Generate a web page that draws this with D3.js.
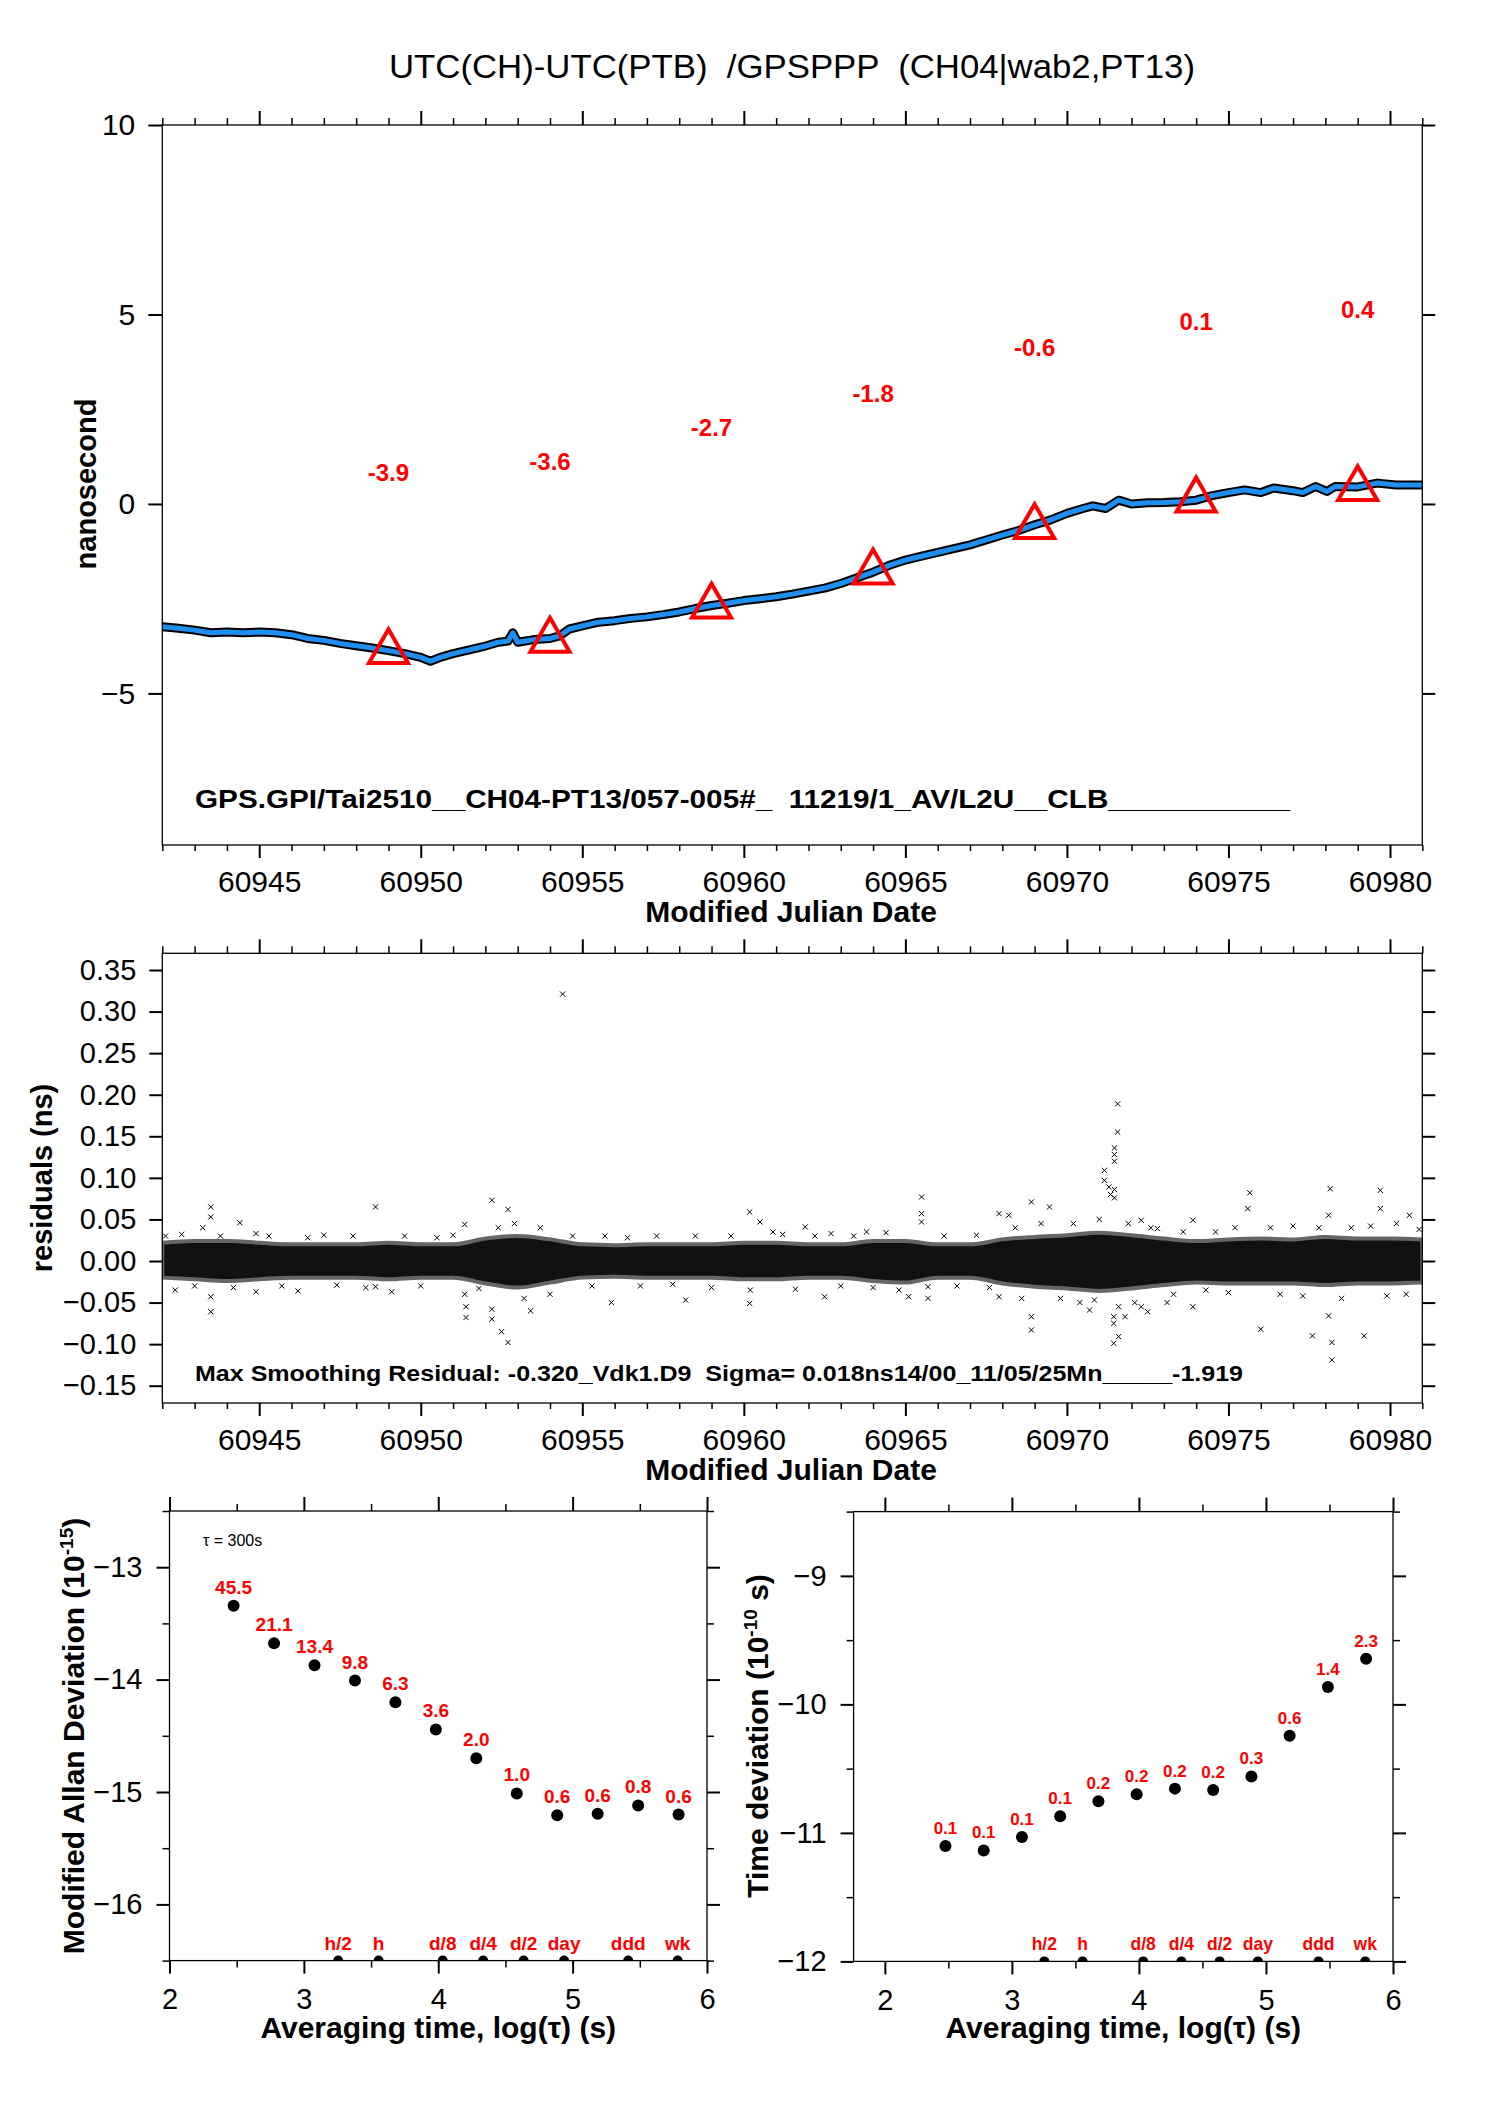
<!DOCTYPE html>
<html>
<head>
<meta charset="utf-8">
<script src="https://cdn.jsdelivr.net/npm/d3@7"></script>
<style>
  body { margin: 0; background: #fff; }
  text { font-family: "Liberation Sans", Arial, Helvetica, sans-serif; white-space: pre; }
</style>
</head>
<body>
<div id="root"></div>
<script>
// ---- top panel: UTC(CH)-UTC(PTB) smoothed offset (ns) ----
const offsetMjd = [60942.0, 60942.5, 60943.0, 60943.5, 60944.0, 60944.5, 60945.0, 60945.5, 60946.0, 60946.5,
  60947.0, 60947.5, 60948.0, 60948.5, 60949.0, 60949.5, 60950.0, 60950.3, 60950.6, 60951.0,
  60951.5, 60952.0, 60952.4, 60952.7, 60952.85, 60953.0, 60953.5, 60954.0, 60954.3, 60954.6,
  60955.0, 60955.5, 60956.0, 60956.5, 60957.0, 60957.5, 60958.0, 60958.5, 60959.0, 60959.5,
  60960.0, 60960.5, 60961.0, 60961.5, 60962.0, 60962.5, 60963.0, 60963.5, 60964.0, 60964.5,
  60965.0, 60965.5, 60966.0, 60966.5, 60967.0, 60967.5, 60968.0, 60968.5, 60969.0, 60969.5,
  60970.0, 60970.5, 60970.8, 60971.2, 60971.6, 60972.0, 60972.5, 60973.0, 60973.5, 60974.0,
  60974.5, 60975.0, 60975.5, 60976.0, 60976.4, 60977.0, 60977.3, 60977.7, 60978.05, 60978.3,
  60979.0, 60979.6, 60980.2, 60981.0];
const offsetNs = [-3.24, -3.28, -3.33, -3.40, -3.38, -3.40, -3.38, -3.40, -3.45, -3.55,
  -3.60, -3.68, -3.74, -3.80, -3.87, -3.95, -4.05, -4.15, -4.05, -3.95,
  -3.85, -3.75, -3.65, -3.62, -3.40, -3.65, -3.58, -3.55, -3.48, -3.30,
  -3.22, -3.12, -3.08, -3.02, -2.98, -2.92, -2.85, -2.76, -2.68, -2.62,
  -2.55, -2.50, -2.45, -2.38, -2.30, -2.22, -2.10, -1.95, -1.80, -1.62,
  -1.48, -1.38, -1.28, -1.18, -1.08, -0.95, -0.82, -0.70, -0.55, -0.42,
  -0.25, -0.12, -0.05, -0.12, 0.10, 0.00, 0.03, 0.04, 0.06, 0.10,
  0.22, 0.30, 0.37, 0.30, 0.42, 0.35, 0.30, 0.46, 0.33, 0.46,
  0.45, 0.55, 0.50, 0.50];

const markMjd = [60949, 60954, 60959, 60964, 60969, 60974, 60979];
const markNs = [-3.9, -3.6, -2.7, -1.8, -0.6, 0.1, 0.4];

const mjdMajor = [60945, 60950, 60955, 60960, 60965, 60970, 60975, 60980];
const topYTicks = [10, 5, 0, -5];

// ---- middle panel: residuals (ns) ----
const bandDays = d3.range(60942, 60982);
const bandHi = [0.022, 0.024, 0.024, 0.022, 0.020, 0.020, 0.020, 0.022, 0.020, 0.020,
  0.027, 0.030, 0.026, 0.020, 0.019, 0.020, 0.020, 0.020, 0.022, 0.022,
  0.020, 0.020, 0.024, 0.024, 0.020, 0.020, 0.026, 0.029, 0.031, 0.034,
  0.031, 0.027, 0.024, 0.026, 0.027, 0.026, 0.029, 0.027, 0.027, 0.026];
const bandLo = [-0.020, -0.022, -0.024, -0.022, -0.020, -0.020, -0.020, -0.022, -0.020, -0.020,
  -0.027, -0.032, -0.026, -0.020, -0.019, -0.020, -0.020, -0.020, -0.022, -0.022,
  -0.020, -0.020, -0.024, -0.026, -0.020, -0.020, -0.027, -0.031, -0.033, -0.036,
  -0.033, -0.029, -0.026, -0.027, -0.027, -0.027, -0.029, -0.027, -0.027, -0.026];

// isolated residuals standing off the band
const outMjd = [60942.1, 60942.4, 60943.25, 60943.5, 60943.5, 60943.5, 60943.5, 60944.4, 60944.9, 60944.9,
  60946.2, 60948.6, 60948.6, 60949.1, 60951.36, 60951.36, 60951.4, 60951.4, 60952.2, 60952.2,
  60952.2, 60952.7, 60952.7, 60952.5, 60953.4, 60954.39, 60955.9, 60958.2, 60960.18, 60960.18,
  60960.5, 60960.9, 60961.9, 60962.5, 60962.7, 60963.8, 60965.1, 60965.5, 60965.5, 60965.5,
  60965.7, 60965.7, 60967.9, 60967.9, 60968.2, 60968.9, 60968.9, 60968.9, 60969.46, 60970.7,
  60970.85, 60971.16, 60971.16, 60971.3, 60971.35, 60971.47, 60971.47, 60971.47, 60971.47, 60971.47,
  60971.57, 60971.57, 60971.45, 60971.45, 60971.45, 60971.6, 60971.6, 60971.8, 60972.3, 60972.3,
  60972.5, 60972.8, 60973.1, 60973.9, 60973.9, 60975.66, 60975.6, 60976.0, 60977.6, 60978.15,
  60978.1, 60978.2, 60978.2, 60978.1, 60979.2, 60979.7, 60979.7, 60980.6];
const outNs = [0.030, -0.035, 0.040, 0.065, 0.053, -0.061, -0.043, 0.046, 0.033, -0.037,
  -0.036, 0.065, -0.031, -0.037, 0.044, -0.040, -0.055, -0.068, 0.073, -0.058,
  -0.070, 0.062, -0.098, -0.085, -0.060, 0.321, -0.050, -0.047, 0.059, -0.051,
  0.047, 0.035, 0.041, -0.043, 0.033, 0.035, -0.043, 0.077, 0.057, 0.047,
  -0.045, -0.031, 0.057, -0.043, 0.055, 0.071, -0.067, -0.083, 0.065, -0.059,
  -0.047, 0.109, 0.097, 0.089, 0.080, 0.136, 0.128, 0.120, 0.086, 0.076,
  0.189, 0.155, -0.099, -0.075, -0.067, -0.091, -0.055, -0.067, 0.049, -0.055,
  -0.061, 0.039, -0.050, 0.049, -0.055, 0.082, 0.063, -0.082, -0.090, 0.087,
  0.055, -0.098, -0.119, -0.066, -0.090, 0.085, 0.063, 0.055];

// residuals just outside the dense core
const edgeMjd = [60942.6, 60943.0, 60943.8, 60944.2, 60945.3, 60945.7, 60946.5, 60947.0, 60947.4, 60947.9,
  60948.3, 60949.5, 60950.0, 60950.5, 60951.0, 60951.8, 60952.4, 60952.9, 60953.2, 60953.7,
  60954.0, 60954.7, 60955.3, 60955.7, 60956.4, 60956.8, 60957.3, 60957.8, 60958.5, 60959.0,
  60959.6, 60960.2, 60961.2, 60961.6, 60962.2, 60963.0, 60963.4, 60964.0, 60964.4, 60964.8,
  60966.2, 60966.6, 60967.2, 60967.6, 60968.4, 60968.6, 60969.2, 60969.8, 60970.2, 60970.4,
  60971.0, 60971.9, 60972.1, 60972.6, 60973.3, 60973.6, 60974.3, 60974.6, 60975.0, 60975.2,
  60976.3, 60976.6, 60977.0, 60977.3, 60977.8, 60978.5, 60978.8, 60979.4, 60979.9, 60980.2,
  60980.5, 60980.9];
const edgeNs = [0.032, -0.030, 0.030, -0.032, 0.030, -0.030, 0.028, 0.031, -0.029, 0.030,
  -0.032, 0.030, -0.030, 0.028, 0.031, -0.033, 0.040, 0.045, -0.045, 0.040,
  -0.040, 0.030, -0.030, 0.030, 0.028, -0.030, 0.030, -0.028, 0.030, -0.032,
  0.030, -0.035, 0.032, -0.034, 0.030, -0.030, 0.030, -0.032, 0.034, -0.035,
  0.030, -0.030, 0.031, -0.032, 0.040, -0.045, 0.045, -0.045, 0.045, -0.050,
  0.050, 0.045, -0.050, 0.040, -0.040, 0.035, -0.035, 0.035, -0.038, 0.040,
  0.040, -0.040, 0.042, -0.042, 0.040, -0.045, 0.040, 0.042, -0.042, 0.045,
  -0.040, 0.038];

const resYTicks = [0.35, 0.30, 0.25, 0.20, 0.15, 0.10, 0.05, 0.00, -0.05, -0.10, -0.15];

// ---- bottom panels: stability ----
const tau = [300, 600, 1200, 2400, 4800, 9600, 19200, 38400, 76800, 153600, 307200, 614400];
const mdev = [45.5, 21.1, 13.4, 9.8, 6.3, 3.6, 2.0, 0.97, 0.62, 0.64, 0.76, 0.63];   // 1e-15
const tdev = [0.079, 0.073, 0.093, 0.135, 0.176, 0.200, 0.221, 0.216, 0.275, 0.569, 1.365, 2.26]; // 1e-10 s

const markTau = [1800, 3600, 10800, 21600, 43200, 86400, 259200, 604800];
const markNames = ["h/2", "h", "d/8", "d/4", "d/2", "day", "ddd", "wk"];

const logMajor = [2, 3, 4, 5, 6];
const logMinor = [2.5, 3.5, 4.5, 5.5];
const adevMajor = [-13, -14, -15, -16];
const adevMinor = [-12.5, -13.5, -14.5, -15.5, -16.5];
const tdevMajor = [-9, -10, -11, -12];
const tdevMinor = [-8.5, -9.5, -10.5, -11.5];

// ------------------------------------------------------------------
const FONT = "'Liberation Sans', Arial, Helvetica, sans-serif";
const svg = d3.select("#root").append("svg")
  .attr("width", 1488)
  .attr("height", 2105)
  .style("background", "#fff");

function addAxis(axis, transform, vals, size, fmt, fontSize, pad) {
  axis.tickValues(vals).tickSize(size).tickSizeOuter(0).tickPadding(pad)
    .tickFormat(fmt || (() => ""));
  const g = svg.append("g").attr("transform", transform).call(axis);
  g.select(".domain").remove();
  g.selectAll(".tick line").attr("stroke", "#000").attr("stroke-width", size > 10 ? 2 : 1.5);
  if (!fmt) {
    g.selectAll(".tick text").remove();
  } else {
    g.selectAll(".tick text")
      .attr("font-size", fontSize)
      .attr("font-family", FONT)
      .attr("fill", "#000");
  }
  return g;
}

function box(x, y) {
  const [x0, x1] = x.range();
  const [y1, y0] = y.range();
  svg.append("rect")
    .attr("x", x0).attr("y", y0)
    .attr("width", x1 - x0).attr("height", y1 - y0)
    .attr("fill", "none").attr("stroke", "#000").attr("stroke-width", 1.3);
}

function clip(id, x, y) {
  const [x0, x1] = x.range();
  const [y1, y0] = y.range();
  svg.append("clipPath").attr("id", id)
    .append("rect").attr("x", x0).attr("y", y0).attr("width", x1 - x0).attr("height", y1 - y0);
}

function mjdAxes(x, y) {
  const [y1, y0] = y.range();
  const minor = d3.range(60942, 60982).filter(d => !mjdMajor.includes(d));
  addAxis(d3.axisBottom(x), `translate(0,${y1})`, minor, 6, null, 30, 10);
  addAxis(d3.axisBottom(x), `translate(0,${y1})`, mjdMajor, 13, d3.format("d"), 30, 13);
  addAxis(d3.axisTop(x), `translate(0,${y0})`, minor, 7, null, 30, 10);
  addAxis(d3.axisTop(x), `translate(0,${y0})`, mjdMajor, 14, null, 30, 10);
}

function boldText(x, y, str, size, opts = {}) {
  const t = (opts.parent || svg).append("text")
    .attr("x", x).attr("y", y)
    .attr("font-size", size)
    .attr("font-weight", "bold")
    .attr("fill", opts.fill || "#000")
    .attr("text-anchor", opts.anchor || "start")
    .attr("xml:space", "preserve")
    .text(str);
  if (opts.len) t.attr("textLength", opts.len).attr("lengthAdjust", "spacingAndGlyphs");
  return t;
}

// title
svg.append("text")
  .attr("x", 792).attr("y", 78)
  .attr("text-anchor", "middle")
  .attr("font-size", 34)
  .attr("xml:space", "preserve")
  .attr("textLength", 806).attr("lengthAdjust", "spacingAndGlyphs")
  .text("UTC(CH)-UTC(PTB)  /GPSPPP  (CH04|wab2,PT13)");

// ===== top panel =====
const xTop = d3.scaleLinear().domain([60942, 60981]).range([162.3, 1422.3]);
const yTop = d3.scaleLinear().domain([-9, 10]).range([845, 125]);

clip("clipTop", xTop, yTop);
const line = d3.line().x((d, i) => xTop(offsetMjd[i])).y(d => yTop(d));
const topG = svg.append("g").attr("clip-path", "url(#clipTop)");
topG.append("path").datum(offsetNs)
  .attr("d", line).attr("fill", "none")
  .attr("stroke", "#000").attr("stroke-width", 9).attr("stroke-linejoin", "round");
topG.append("path").datum(offsetNs)
  .attr("d", line).attr("fill", "none")
  .attr("stroke", "#1e8ff0").attr("stroke-width", 5).attr("stroke-linejoin", "round");

topG.selectAll(".tri")
  .data(markNs)
  .enter()
  .append("path")
  .attr("class", "tri")
  .attr("transform", (d, i) => `translate(${xTop(markMjd[i])},${yTop(d)})`)
  .attr("d", d3.symbol().type(d3.symbolTriangle).size(660))
  .attr("fill", "none").attr("stroke", "#ff0000").attr("stroke-width", 4);

svg.selectAll(".tlab")
  .data(markNs)
  .enter()
  .append("text")
  .attr("class", "tlab")
  .attr("x", (d, i) => xTop(markMjd[i]))
  .attr("y", d => yTop(d + 4.5))
  .attr("text-anchor", "middle")
  .attr("font-size", 24).attr("font-weight", "bold").attr("fill", "#ff0000")
  .text(d => d.toFixed(1));

box(xTop, yTop);
mjdAxes(xTop, yTop);
addAxis(d3.axisLeft(yTop), "translate(162.3,0)", topYTicks, 14, d3.format("d"), 30, 13);
addAxis(d3.axisRight(yTop), "translate(1422.3,0)", topYTicks, 13, null, 30, 10);

boldText(195, 808, "GPS.GPI/Tai2510__CH04-PT13/057-005#_  11219/1_AV/L2U__CLB___________", 25, { len: 1095 });
boldText(791, 922, "Modified Julian Date", 30, { anchor: "middle" });
boldText(0, 0, "nanosecond", 29, { anchor: "middle" }).attr("transform", "translate(96,484) rotate(-90)");

// ===== middle panel =====
const xRes = d3.scaleLinear().domain([60942, 60981]).range([162.3, 1422.3]);
const yRes = d3.scaleLinear().domain([-0.1708, 0.3701]).range([1403, 953.3]);

clip("clipRes", xRes, yRes);
const resG = svg.append("g").attr("clip-path", "url(#clipRes)");
const band = d3.area()
  .x((d, i) => xRes(bandDays[i]))
  .y0((d, i) => yRes(bandLo[i]))
  .y1(d => yRes(d))
  .curve(d3.curveMonotoneX);
resG.append("path").datum(bandHi)
  .attr("d", band)
  .attr("fill", "#111").attr("stroke", "#666").attr("stroke-width", 4);

function crossPath(mx, r) {
  return (d, i) => {
    const cx = xRes(mx[i]), cy = yRes(d);
    return `M${cx - r},${cy - r}L${cx + r},${cy + r}M${cx - r},${cy + r}L${cx + r},${cy - r}`;
  };
}

resG.selectAll(".edge")
  .data(edgeNs)
  .enter()
  .append("path")
  .attr("class", "edge")
  .attr("d", crossPath(edgeMjd, 2.6))
  .attr("stroke", "#000").attr("stroke-width", 1).attr("fill", "none");

resG.selectAll(".out")
  .data(outNs)
  .enter()
  .append("path")
  .attr("class", "out")
  .attr("d", crossPath(outMjd, 2.6))
  .attr("stroke", "#000").attr("stroke-width", 1).attr("fill", "none");

box(xRes, yRes);
mjdAxes(xRes, yRes);
addAxis(d3.axisLeft(yRes), "translate(162.3,0)", resYTicks, 13, d3.format(".2f"), 29, 13);
addAxis(d3.axisRight(yRes), "translate(1422.3,0)", resYTicks, 13, null, 29, 10);

boldText(195, 1381, "Max Smoothing Residual: -0.320_Vdk1.D9  Sigma= 0.018ns14/00_11/05/25Mn_____-1.919", 22, { len: 1048 });
boldText(791, 1480, "Modified Julian Date", 30, { anchor: "middle" });
boldText(0, 0, "residuals (ns)", 29, { anchor: "middle" }).attr("transform", "translate(52,1178) rotate(-90)");

// ===== bottom panels =====
function stabilityPanel(id, x, y, values, scaleExp, labelSize, markSize, yMajor, yMinor, yTitle, sup, tail, titleX) {
  clip(id, x, y);
  const [x0, x1] = x.range();
  const g = svg.append("g").attr("clip-path", `url(#${id})`);
  const bottomVal = y.domain()[0];

  g.selectAll(".pt")
    .data(values)
    .enter()
    .append("circle")
    .attr("cx", (d, i) => x(Math.log10(tau[i])))
    .attr("cy", d => y(Math.log10(d * scaleExp)))
    .attr("r", 6)
    .attr("fill", "#000");

  svg.append("g").selectAll("text")
    .data(values)
    .enter()
    .append("text")
    .attr("x", (d, i) => x(Math.log10(tau[i])))
    .attr("y", d => y(Math.log10(d * scaleExp)) - 12)
    .attr("text-anchor", "middle")
    .attr("font-size", labelSize).attr("font-weight", "bold").attr("fill", "#ff0000")
    .text(d => d.toFixed(1));

  g.selectAll(".mk")
    .data(markTau)
    .enter()
    .append("circle")
    .attr("cx", d => x(Math.log10(d)))
    .attr("cy", y(bottomVal))
    .attr("r", 5)
    .attr("fill", "#000");

  svg.append("g").selectAll("text")
    .data(markNames)
    .enter()
    .append("text")
    .attr("x", (d, i) => x(Math.log10(markTau[i])))
    .attr("y", y(bottomVal) - 11)
    .attr("text-anchor", "middle")
    .attr("font-size", markSize).attr("font-weight", "bold").attr("fill", "#ff0000")
    .text(d => d);

  box(x, y);
  const [yb, yt] = y.range();
  addAxis(d3.axisBottom(x), `translate(0,${yb})`, logMinor, 7, null, 29, 10);
  addAxis(d3.axisBottom(x), `translate(0,${yb})`, logMajor, 13, d3.format("d"), 29, 15);
  addAxis(d3.axisTop(x), `translate(0,${yt})`, logMinor, 7, null, 29, 10);
  addAxis(d3.axisTop(x), `translate(0,${yt})`, logMajor, 14, null, 29, 10);
  addAxis(d3.axisLeft(y), `translate(${x0},0)`, yMinor, 7, null, 29, 10);
  addAxis(d3.axisLeft(y), `translate(${x0},0)`, yMajor, 13, d3.format("d"), 29, 14);
  addAxis(d3.axisRight(y), `translate(${x1},0)`, yMinor, 7, null, 29, 10);
  addAxis(d3.axisRight(y), `translate(${x1},0)`, yMajor, 13, null, 29, 10);

  boldText((x0 + x1) / 2, 2038, "Averaging time, log(τ) (s)", 30, { anchor: "middle" });

  // rotated y title with a superscript exponent, laid out piece by piece
  const gT = svg.append("g").attr("transform", `translate(${titleX},1736) rotate(-90)`);
  const t1 = boldText(0, 0, yTitle, 30, { parent: gT });
  const t2 = boldText(0, -11, sup, 19, { parent: gT });
  const t3 = boldText(0, 0, tail, 30, { parent: gT });
  const w1 = t1.node().getComputedTextLength();
  const w2 = t2.node().getComputedTextLength();
  const w3 = t3.node().getComputedTextLength();
  const start = -(w1 + w2 + w3) / 2;
  t1.attr("x", start);
  t2.attr("x", start + w1);
  t3.attr("x", start + w1 + w2);
}

const xAdev = d3.scaleLinear().domain([2, 6]).range([169.5, 707]);
const yAdev = d3.scaleLinear().domain([-16.5, -12.5]).range([1960.6, 1511]);
stabilityPanel("clipAdev", xAdev, yAdev, mdev, 1e-15, 19, 19, adevMajor, adevMinor,
  "Modified Allan Deviation (10", "-15", ")", 84);

svg.append("text")
  .attr("x", 203).attr("y", 1546)
  .attr("font-size", 16)
  .text("τ = 300s");

const xTdev = d3.scaleLinear().domain([1.754, 6]).range([853.6, 1393]);
const yTdev = d3.scaleLinear().domain([-12, -8.5]).range([1961.4, 1511.6]);
stabilityPanel("clipTdev", xTdev, yTdev, tdev, 1e-10, 17, 17.5, tdevMajor, tdevMinor,
  "Time deviation (10", "-10", " s)", 768);
</script>
</body>
</html>
